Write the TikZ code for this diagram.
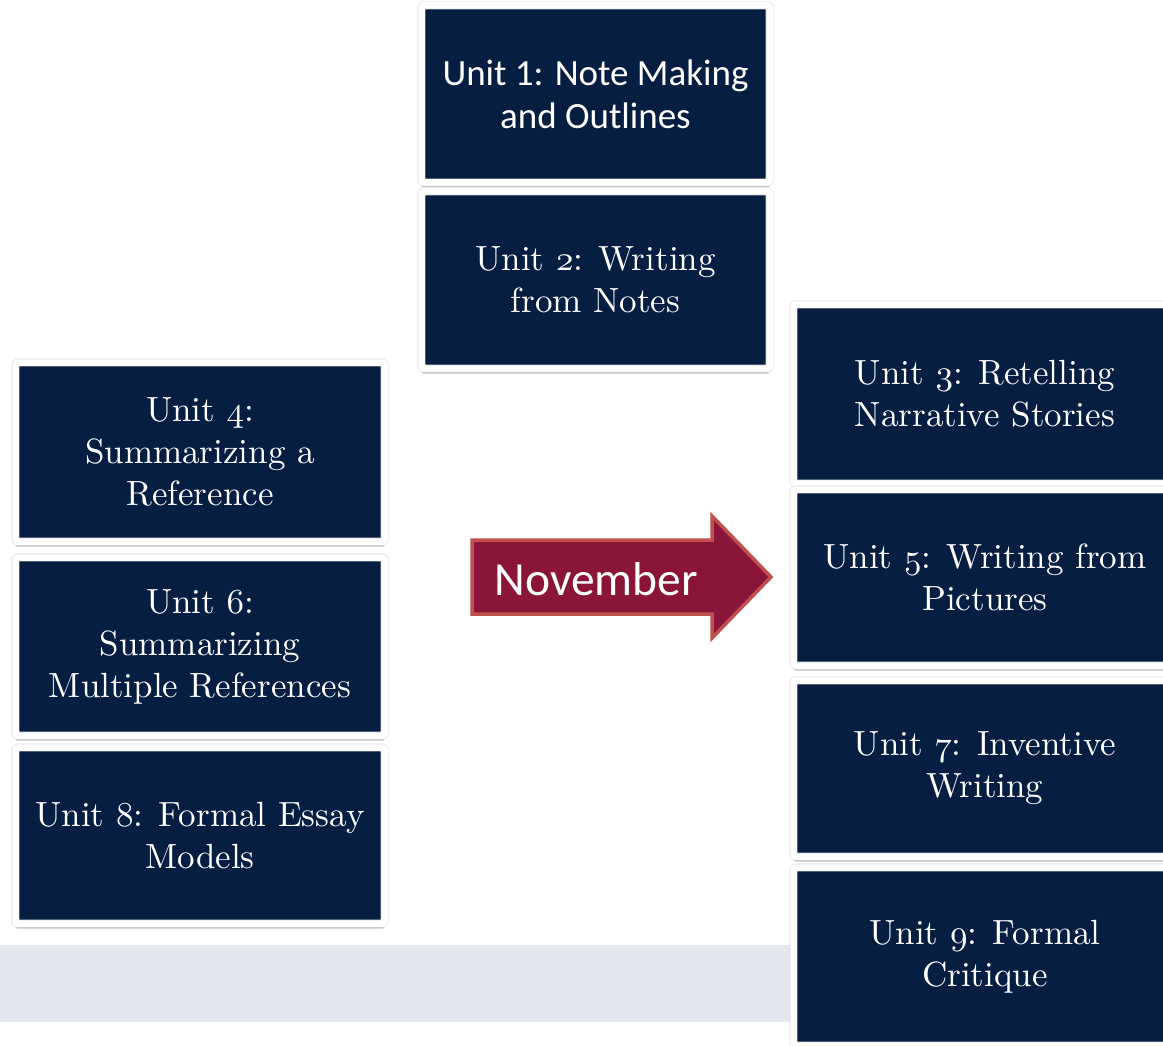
\documentclass[tikz,border=0pt]{standalone}
\usepackage{fontspec}
\newfontfamily\calibrifont{Carlito}
\newfontfamily\serifface{lmroman10-regular}[Extension=.otf]
\usetikzlibrary{shadows}
\definecolor{navy}{RGB}{5,30,65}
\definecolor{bandgray}{RGB}{225,230,239}
\definecolor{wine}{RGB}{139,21,56}
\definecolor{wineedge}{RGB}{192,80,77}
% old-style figures taken from the math italic font
\font\oldfigs=cmmi10 at 35pt
\newcommand{\osn}[1]{{\oldfigs #1}}
\begin{document}
\begin{tikzpicture}[x=1pt,y=-1pt,
  unitbox/.style={draw=black!15, double=white, line width=0.6pt, double distance=6.5pt,
    fill=navy, rounded corners=1.5pt,
    minimum width=#1, minimum height=177pt, inner sep=0pt, text=white, align=center,
    drop shadow={shadow xshift=0pt, shadow yshift=-5pt, opacity=0.4, fill=black!60}},
  unitbox/.default=348pt,
  serif/.style={font=\serifface\fontsize{35}{42}\selectfont},
  sans/.style={font=\calibrifont\fontsize{37}{43}\selectfont}]
  \useasboundingbox (0,0) rectangle (1163,1046);
  \fill[white] (0,0) rectangle (1163,1046);
  % light band along the bottom
  \fill[bandgray] (0,945) rectangle (800,1022);

  % centre column
  \node[unitbox, sans] (u1) at (595.5,94) {Unit 1: Note Making\\and Outlines};
  \node[unitbox, serif] (u2) at (595.5,280) {Unit \osn{2}: Writing\\from Notes};

  % left column
  \node[unitbox=369pt, minimum height=179pt, serif] (u4) at (200,452) {Unit \osn{4}:\\Summarizing a\\Reference};
  \node[unitbox=369pt, minimum height=178pt, serif] (u6) at (200,646.5) {Unit \osn{6}:\\Summarizing\\Multiple References};
  \node[unitbox=369pt, minimum height=176pt, serif] (u8) at (200,835.5) {Unit \osn{8}: Formal Essay\\Models};

  % right column
  \node[unitbox=383pt, minimum height=179pt, serif] (u3) at (985,394) {Unit \osn{3}: Retelling\\Narrative Stories};
  \node[unitbox=383pt, minimum height=176pt, serif] (u5) at (985,577.5) {Unit \osn{5}: Writing from\\Pictures};
  \node[unitbox=383pt, minimum height=176pt, serif] (u7) at (985,768.5) {Unit \osn{7}: Inventive\\Writing};
  \node[unitbox=383pt, minimum height=178pt, serif] (u9) at (985,956.5) {Unit \osn{9}: Formal\\Critique};

  % month arrow
  \draw[fill=wine, draw=wineedge, line width=3.5pt, line join=miter]
    (472,540) -- (712,540) -- (712,516) -- (771,577) -- (712,638) -- (712,614) -- (472,614) -- cycle;
  \node[text=white, font=\calibrifont\fontsize{47.5}{50}\selectfont, anchor=west] (nov) at (491,579) {November};
\end{tikzpicture}
\end{document}
